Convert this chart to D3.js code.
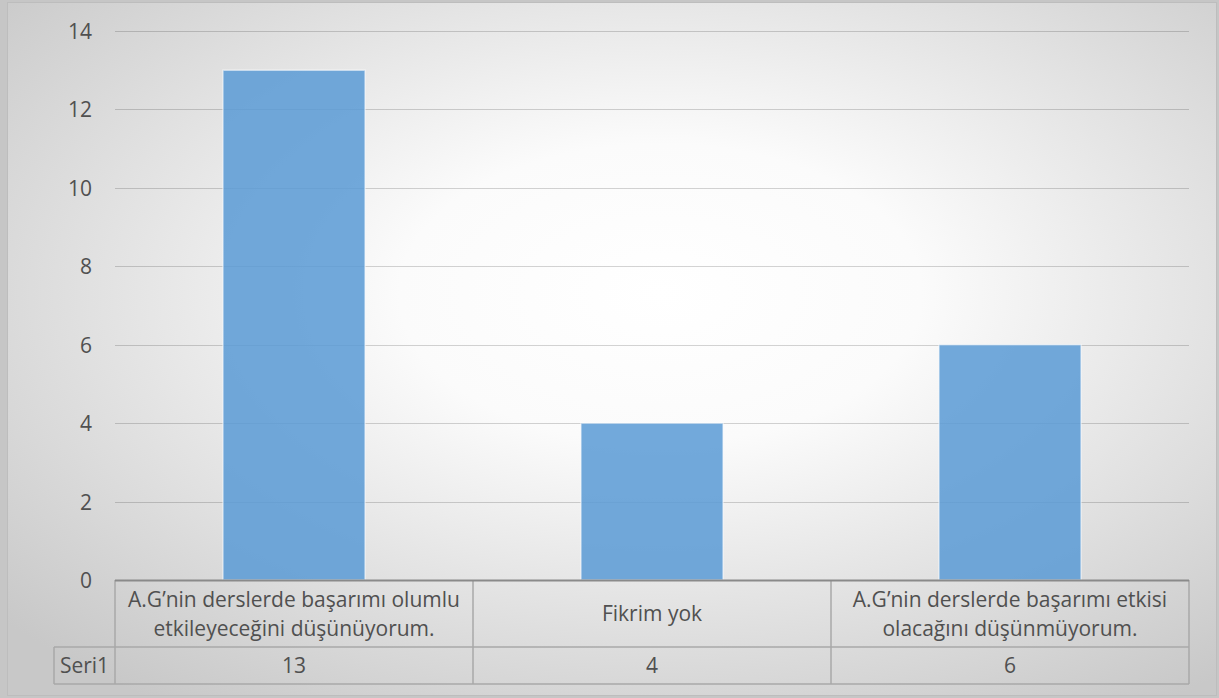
<!DOCTYPE html>
<html>
<head>
<meta charset="utf-8">
<script src="https://cdn.jsdelivr.net/npm/d3@7"></script>
<style>
  html, body { margin: 0; padding: 0; background: #c6c6c6; }
  svg { display: block; }
  text { font-family: "Open Sans", sans-serif; fill: #505050; }
</style>
</head>
<body>
<svg id="chart" width="1219" height="698"></svg>
<script>
// Survey responses and their counts
const categories = [
  ["A.G’nin derslerde başarımı olumlu", "etkileyeceğini düşünüyorum."],
  ["Fikrim yok"],
  ["A.G’nin derslerde başarımı etkisi", "olacağını düşünmüyorum."]
];
const seriesName = "Seri1";
const values = [13, 4, 6];
const yTicks = [0, 2, 4, 6, 8, 10, 12, 14];

const svg = d3.select("#chart");
const W = 1219, H = 698;
const plot = { left: 115, right: 1189, top: 31, bottom: 580 };
const table = { labelLeft: 54, catBottom: 647, bottom: 684 };
const fontSize = 21, capHalf = 7.5;

// Background: soft radial gradient
const defs = svg.append("defs");
const grad = defs.append("radialGradient")
  .attr("id", "bg").attr("cx", 0.54).attr("cy", 0.42).attr("r", 0.72)
  .attr("fx", 0.54).attr("fy", 0.42);
grad.append("stop").attr("offset", 0).attr("stop-color", "#ffffff");
grad.append("stop").attr("offset", 0.3).attr("stop-color", "#fbfbfb");
grad.append("stop").attr("offset", 0.75).attr("stop-color", "#dadada");
grad.append("stop").attr("offset", 1).attr("stop-color", "#c8c8c8");

svg.append("rect")
  .attr("x", 7.5).attr("y", 2.5).attr("width", 1209).attr("height", 693)
  .attr("fill", "url(#bg)").attr("stroke", "#bdbdbd").attr("stroke-width", 1);

const x = d3.scaleBand().domain(d3.range(values.length)).range([plot.left, plot.right]).padding(0);
const y = d3.scaleLinear().domain([0, 14]).range([plot.bottom, plot.top]);

// Gridlines
svg.append("g").selectAll("line").data(yTicks.filter(t => t > 0)).join("line")
  .attr("x1", plot.left).attr("x2", plot.right)
  .attr("y1", d => Math.round(y(d)) + 0.5).attr("y2", d => Math.round(y(d)) + 0.5)
  .attr("stroke", "#000").attr("stroke-opacity", 0.17).attr("stroke-width", 1.2);

// Y axis tick labels
const yAxis = d3.axisLeft(y).tickValues(yTicks).tickSize(0).tickPadding(0);
const yg = svg.append("g").attr("transform", `translate(92,0)`).call(yAxis);
yg.select(".domain").remove();
yg.selectAll("text")
  .attr("font-size", fontSize).attr("font-family", "Open Sans, sans-serif")
  .attr("fill", "#505050").attr("dy", null).attr("y", capHalf).attr("x", 0);

// Bars
const barW = x.bandwidth() * 0.397;
svg.append("g").selectAll("rect").data(values).join("rect")
  .attr("x", (d, i) => x(i) + (x.bandwidth() - barW) / 2)
  .attr("y", d => y(d))
  .attr("width", barW)
  .attr("height", d => y(0) - y(d))
  .attr("fill", "#5b9bd5").attr("fill-opacity", 0.86)
  .attr("stroke", "#ffffff").attr("stroke-opacity", 0.55).attr("stroke-width", 1.5);

// Data table
const tg = svg.append("g");
const lineColor = "#a8a8a8";
const hline = (x1, x2, yy) => tg.append("line").attr("x1", x1).attr("x2", x2).attr("y1", yy).attr("y2", yy)
  .attr("stroke", lineColor).attr("stroke-width", 1.5);
const vline = (xx, y1, y2) => tg.append("line").attr("x1", xx).attr("x2", xx).attr("y1", y1).attr("y2", y2)
  .attr("stroke", lineColor).attr("stroke-width", 1.5);

hline(table.labelLeft, plot.right, table.catBottom);
hline(table.labelLeft, plot.right, table.bottom);
vline(table.labelLeft, table.catBottom, table.bottom);
vline(plot.left, plot.bottom, table.bottom);
values.forEach((d, i) => vline(x(i) + x.bandwidth(), plot.bottom, table.bottom));

// Category axis line (top edge of table)
tg.append("line").attr("x1", plot.left).attr("x2", plot.right)
  .attr("y1", plot.bottom + 0.5).attr("y2", plot.bottom + 0.5)
  .attr("stroke", "#8a8a8a").attr("stroke-width", 2);

// Category labels
const catMid = (plot.bottom + table.catBottom) / 2;
const lineGap = 29;
categories.forEach((lines, i) => {
  const cx = x(i) + x.bandwidth() / 2;
  const t = tg.append("text").attr("text-anchor", "middle").attr("font-size", fontSize);
  lines.forEach((s, k) => {
    const off = (k - (lines.length - 1) / 2) * lineGap;
    t.append("tspan").attr("x", cx).attr("y", catMid + capHalf + off).text(s);
  });
});

// Series row
const rowMid = (table.catBottom + table.bottom) / 2;
tg.append("text").attr("x", (table.labelLeft + plot.left) / 2).attr("y", rowMid + capHalf)
  .attr("text-anchor", "middle").attr("font-size", fontSize).text(seriesName);
tg.selectAll("text.val").data(values).join("text").attr("class", "val")
  .attr("x", (d, i) => x(i) + x.bandwidth() / 2).attr("y", rowMid + capHalf)
  .attr("text-anchor", "middle").attr("font-size", fontSize).text(d => d);
</script>
</body>
</html>
